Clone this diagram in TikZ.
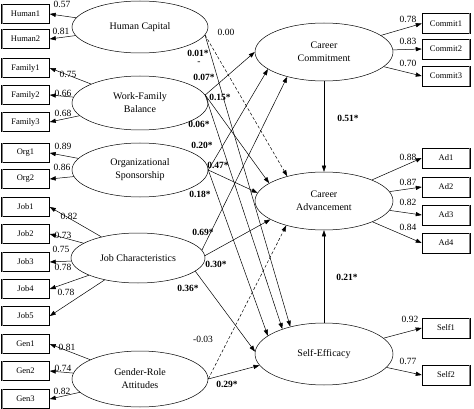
\documentclass[tikz,border=0pt]{standalone}
\usepackage{fontspec}
\setmainfont{Liberation Serif}
\usetikzlibrary{arrows.meta,shapes.geometric}
\tikzset{
    latent/.style={ellipse, draw, line width=0.5pt, minimum width=136pt, minimum height=54pt, inner sep=0pt, align=center, font=\fontsize{10}{13}\selectfont},
    manifest/.style={rectangle, draw, line width=0.5pt, minimum width=48pt, minimum height=19pt, inner sep=0pt, font=\fontsize{8.5}{9}\selectfont},
    effect/.style={-{Triangle[length=6pt,width=4.2pt]}, line width=0.5pt},
    nseffect/.style={effect, dash pattern=on 3pt off 2pt},
    coef/.style={inner sep=0pt, font=\fontsize{9.5}{10}\selectfont},
    bcoef/.style={inner sep=0pt, font=\fontsize{9.5}{10}\selectfont\bfseries},
}
\begin{document}
\begin{tikzpicture}[x=1pt, y=-1pt]
        \useasboundingbox (0,0) rectangle (474,409);
        % latent variables
        \node[latent, minimum height=52pt] (hc) at (140,27) {Human Capital};
        \node[latent] (wfb) at (140,103) {Work-Family\\Balance};
        \node[latent] (org) at (140,170) {Organizational\\Sponsorship};
        \node[latent, minimum width=134pt, minimum height=50pt] (jc) at (138,258) {Job Characteristics};
        \node[latent, minimum height=56pt] (gra) at (140,379) {Gender-Role\\Attitudes};
        \node[latent, minimum width=138pt, minimum height=58pt] (cc) at (324,52) {Career\\Commitment};
        \node[latent, minimum width=138pt, minimum height=58pt] (ca) at (324,201) {Career\\Advancement};
        \node[latent, minimum width=138pt, minimum height=62pt] (se) at (324,354) {Self-Efficacy};

        % indicators (left)
        \node[manifest] (human1) at (25.5,14) {Human1};
        \node[manifest] (human2) at (25.5,39) {Human2};
        \node[manifest] (family1) at (25.5,68) {Family1};
        \node[manifest] (family2) at (25.5,95) {Family2};
        \node[manifest] (family3) at (25.5,122) {Family3};
        \node[manifest] (org1) at (25.5,153) {Org1};
        \node[manifest] (org2) at (25.5,179) {Org2};
        \node[manifest] (job1) at (25.5,207) {Job1};
        \node[manifest] (job2) at (25.5,234) {Job2};
        \node[manifest] (job3) at (25.5,262) {Job3};
        \node[manifest] (job4) at (25.5,289) {Job4};
        \node[manifest] (job5) at (25.5,316) {Job5};
        \node[manifest] (gen1) at (25.5,344) {Gen1};
        \node[manifest] (gen2) at (25.5,371) {Gen2};
        \node[manifest] (gen3) at (25.5,399) {Gen3};
        % indicators (right)
        \node[manifest, minimum height=20pt] (commit1) at (446,23.5) {Commit1};
        \node[manifest, minimum height=20pt] (commit2) at (446,49) {Commit2};
        \node[manifest, minimum height=20pt] (commit3) at (446,76) {Commit3};
        \node[manifest, minimum height=20pt] (ad1) at (446,158) {Ad1};
        \node[manifest, minimum height=20pt] (ad2) at (446,187) {Ad2};
        \node[manifest, minimum height=20pt] (ad3) at (446,215) {Ad3};
        \node[manifest, minimum height=20pt] (ad4) at (446,243) {Ad4};
        \node[manifest, minimum height=20pt] (self1) at (446,328) {Self1};
        \node[manifest, minimum height=20pt] (self2) at (446,375) {Self2};
        % shaded box edges
        \foreach \b in {human1,human2,family1,family2,family3,org1,org2,job1,job2,job3,job4,job5,gen1,gen2,gen3}
            \draw[gray, line width=1.2pt] ([xshift=0.9pt]\b.north west) -- ([xshift=0.9pt]\b.south west);
        \foreach \b in {commit1,commit2,commit3,ad1,ad2,ad3,ad4,self1,self2}
            \draw[gray, line width=1.2pt] ([xshift=-0.9pt]\b.north east) -- ([xshift=-0.9pt]\b.south east);

        % loadings
        \draw[effect] (hc) -- (human1.east);
        \draw[effect] (hc) -- (human2.east);
        \draw[effect] (wfb) -- (family1.east);
        \draw[effect] (wfb) -- (family2.east);
        \draw[effect] (wfb) -- (family3.east);
        \draw[effect] (org) -- (org1.east);
        \draw[effect] (org) -- (org2.east);
        \draw[effect] (jc) -- (job1.east);
        \draw[effect] (jc) -- (job2.east);
        \draw[effect] (jc) -- (job3.east);
        \draw[effect] (jc) -- (job4.east);
        \draw[effect] (jc) -- (job5.east);
        \draw[effect] (gra) -- (gen1.east);
        \draw[effect] (gra) -- (gen2.east);
        \draw[effect] (gra) -- (gen3.east);
        \draw[effect] (cc) -- (commit1.west);
        \draw[effect] (cc) -- (commit2.west);
        \draw[effect] (cc) -- (commit3.west);
        \draw[effect] (ca) -- (ad1.west);
        \draw[effect] (ca) -- (ad2.west);
        \draw[effect] (ca) -- (ad3.west);
        \draw[effect] (ca) -- (ad4.west);
        \draw[effect] (se) -- (self1.west);
        \draw[effect] (se) -- (self2.west);

        % structural paths
        \draw[nseffect] (hc.-7) -- (ca.146);
        \draw[effect] (hc.-7) -- (se.141);
        \draw[effect] (wfb.7) -- (cc.180);
        \draw[effect] (wfb.7) -- (ca.162);
        \draw[effect] (wfb.7) -- (se.149);
        \draw[effect] (org.east) -- (cc.197);
        \draw[effect] (org.east) -- (ca.173);
        \draw[effect] (org.east) -- (se.162);
        \draw[effect] (jc.7) -- (cc.214);
        \draw[effect] (jc.2) -- (ca.199);
        \draw[effect] (jc.-13) -- (se.178);
        \draw[nseffect] (gra.east) -- (ca.213);
        \draw[effect] (gra.east) -- (se.190);
        \draw[effect] (cc) -- (ca);
        \draw[effect] (se) -- (ca);

        % loading labels
        \node[coef] (lh1) at (62,4) {0.57};
        \node[coef] (lh2) at (61,31) {0.81};
        \node[coef] (lf1) at (68,74) {0.75};
        \node[coef] (lf2) at (63,93) {0.66};
        \node[coef] (lf3) at (63,113) {0.68};
        \node[coef] (lo1) at (63,146) {0.89};
        \node[coef] (lo2) at (62,167) {0.86};
        \node[coef] (lj1) at (69,216) {0.82};
        \node[coef] (lj2) at (63,235) {0.73};
        \node[coef] (lj3) at (61,249) {0.75};
        \node[coef] (lj4) at (63,267) {0.78};
        \node[coef] (lj5) at (66,292) {0.78};
        \node[coef] (lg1) at (67,347) {0.81};
        \node[coef] (lg2) at (63,368) {0.74};
        \node[coef] (lg3) at (62,391) {0.82};
        \node[coef] (lc1) at (408,19) {0.78};
        \node[coef] (lc2) at (408,41) {0.83};
        \node[coef] (lc3) at (408,63) {0.70};
        \node[coef] (la1) at (408,157) {0.88};
        \node[coef] (la2) at (408,182) {0.87};
        \node[coef] (la3) at (408,202) {0.82};
        \node[coef] (la4) at (408,227) {0.84};
        \node[coef] (ls1) at (410,319) {0.92};
        \node[coef] (ls2) at (408,361) {0.77};

        % path labels
        \node[coef] (phc1) at (226,32) {0.00};
        \node[bcoef] (phc2) at (198,53) {0.01*};
        \node[coef] (pdash) at (199,63) {-};
        \node[bcoef] (pwfb1) at (204,77) {0.07*};
        \node[bcoef] (pwfb2) at (220,97) {0.15*};
        \node[bcoef] (pwfb3) at (199,124) {0.06*};
        \node[bcoef] (porg1) at (202,145) {0.20*};
        \node[bcoef] (porg2) at (218,165) {0.47*};
        \node[bcoef] (porg3) at (200,194) {0.18*};
        \node[bcoef] (pjc1) at (203,232) {0.69*};
        \node[bcoef] (pjc2) at (216,264) {0.30*};
        \node[bcoef] (pjc3) at (188,288) {0.36*};
        \node[coef] (pgra1) at (203,339) {-0.03};
        \node[bcoef] (pgra2) at (227,384) {0.29*};
        \node[bcoef] (pcc) at (348,118) {0.51*};
        \node[bcoef] (pse) at (347,277) {0.21*};
\end{tikzpicture}
\end{document}
